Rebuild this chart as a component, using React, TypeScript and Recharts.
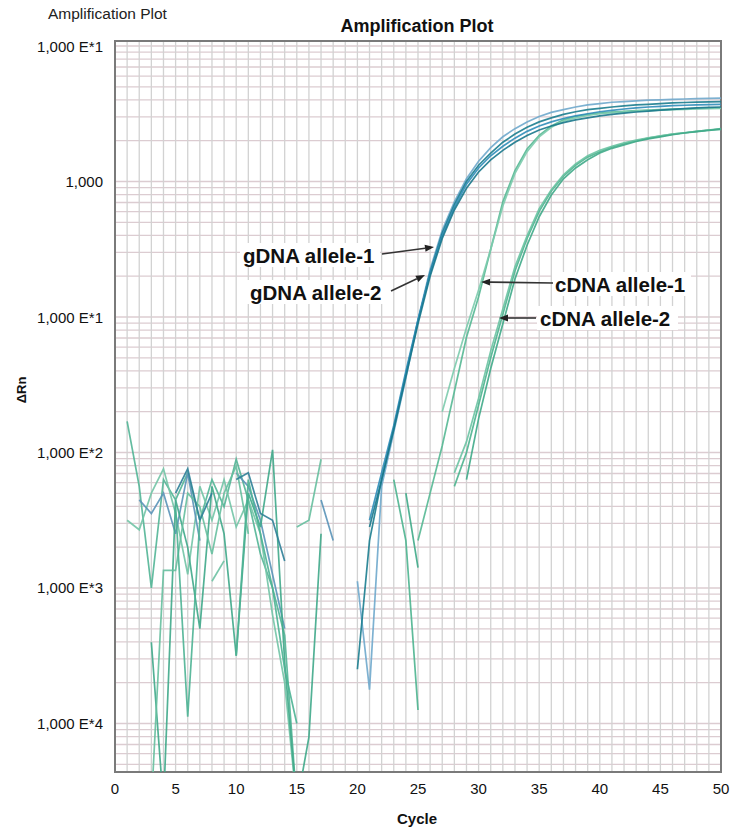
import React from 'react';
import {
  LineChart, Line, XAxis, YAxis, CartesianGrid, ReferenceArea
} from 'recharts';

// ΔRn values as log10 numbers, null = gap (negative / off scale)
const gdnaA1a = [-2.95, -3.75, -2.25, -1.85, -1.45, -1.02, -0.65, -0.36, -0.15, 0.02, 0.15, 0.25, 0.33, 0.39, 0.44, 0.48, 0.51, 0.53, 0.55, 0.565, 0.575, 0.585, 0.59, 0.595, 0.6, 0.603, 0.606, 0.609, 0.611, 0.613, 0.615];
const gdnaA1b = [-3.6, -2.65, -2.2, -1.82, -1.42, -1.03, -0.67, -0.38, -0.17, 0.0, 0.12, 0.21, 0.29, 0.35, 0.4, 0.44, 0.47, 0.495, 0.515, 0.53, 0.54, 0.55, 0.558, 0.565, 0.57, 0.575, 0.58, 0.583, 0.586, 0.588, 0.59];
const gdnaA2a = [-2.5, -2.15, -1.8, -1.4, -1.02, -0.68, -0.4, -0.19, -0.02, 0.1, 0.19, 0.26, 0.32, 0.37, 0.41, 0.44, 0.465, 0.485, 0.5, 0.515, 0.525, 0.535, 0.543, 0.55, 0.555, 0.56, 0.563, 0.566, 0.568, 0.57];
const gdnaA2b = [-2.55, -2.2, -1.83, -1.44, -1.05, -0.7, -0.42, -0.21, -0.05, 0.07, 0.16, 0.23, 0.29, 0.34, 0.38, 0.41, 0.435, 0.455, 0.47, 0.485, 0.495, 0.505, 0.513, 0.52, 0.527, 0.533, 0.538, 0.543, 0.547, 0.55];

const cdnaA1a = [-2.65, -2.3, -1.95, -1.55, -1.15, -0.85, -0.5, -0.15, 0.08, 0.24, 0.34, 0.41, 0.455, 0.48, 0.495, 0.505, 0.512, 0.518, 0.523, 0.527, 0.53, 0.534, 0.537, 0.54, 0.542, 0.544];
const cdnaA1b = [-1.7, -1.38, -1.08, -0.8, -0.5, -0.18, 0.06, 0.22, 0.33, 0.4, 0.445, 0.47, 0.488, 0.5, 0.508, 0.514, 0.519, 0.523, 0.527, 0.53, 0.533, 0.536, 0.538, 0.54];
const cdnaA2a = [-2.2, -2.65, -3.9, null, null, -2.25, -2.0, -1.65, -1.3, -0.98, -0.66, -0.42, -0.22, -0.07, 0.04, 0.12, 0.18, 0.22, 0.255, 0.28, 0.3, 0.32, 0.335, 0.35, 0.36, 0.37, 0.38, 0.39];
const cdnaA2b = [-2.15, -1.92, -1.6, -1.25, -0.94, -0.63, -0.4, -0.2, -0.06, 0.05, 0.13, 0.19, 0.23, 0.26, 0.285, 0.305, 0.322, 0.337, 0.35, 0.36, 0.37, 0.38, 0.385];
const cdnaA2c = [-2.3, -2.85, null, null, null, -2.2, -1.75, -1.38, -1.05, -0.72, -0.47, -0.26, -0.1, 0.02, 0.1, 0.16, 0.21, 0.245, 0.27, 0.295, 0.315, 0.33, 0.345, 0.358, 0.368, 0.378, 0.386];

// baseline noise, cycles 1-18
const noise1 = [-1.77, -2.25, -3.0, -2.2, -2.35, -2.15, -2.5, -2.2, -2.4, -2.05, -2.35, -2.75, -3.0, -3.35, -4.6, null, null, null];
const noise2 = [-2.5, -2.57, -2.3, -2.12, -2.45, -2.9, -2.25, -2.5, -2.2, -2.55, -2.35, -2.6, -3.2, -3.7, -4.6, null, null, null];
const noise3 = [null, -2.35, -2.45, -2.3, -2.6, -2.15, -2.65, null, null, -2.15, -2.25, -2.5, -2.9, -3.3, null, null, -2.35, -2.65];
const noise4 = [null, null, -3.4, -4.6, -2.35, -2.7, -3.3, -2.25, -2.6, -3.5, -2.3, -2.55, -1.98, -3.55, -4.6, -4.1, -2.6, null];
const noise5 = [null, null, -4.6, -2.87, -2.87, -2.3, -2.4, -2.75, -2.3, -2.1, -2.6, null, null, null, -2.55, -2.5, -2.05, null];
const noise6 = [null, null, null, null, -2.3, -2.12, -2.5, -2.3, null, -2.2, -2.15, -2.45, -2.5, -2.8, null, null, null, null];
const noise7 = [null, null, null, null, -2.4, -3.95, -2.5, null, null, -3.5, -2.2, -2.6, -3.0, -3.6, -4.0, null, null, null];
const noise8 = [-2.95, -2.8];

const cycles = Array.from({ length: 50 }, (_, i) => i + 1);
const xTicks = Array.from({ length: 51 }, (_, i) => i);

const decadeValues = [10, 1, 0.1, 0.01, 0.001, 0.0001];
const decadeLabels = ['1,000 E*1', '1,000', '1,000 E*1', '1,000 E*2', '1,000 E*3', '1,000 E*4'];

const Y_MIN = Math.pow(10, -4.358);
const Y_MAX = Math.pow(10, 1.037);

const series = [
  { key: 'n1', start: 1, values: noise1, color: '#52b596' },
  { key: 'n2', start: 1, values: noise2, color: '#72c4a6' },
  { key: 'n3', start: 1, values: noise3, color: '#5a93b8' },
  { key: 'n4', start: 1, values: noise4, color: '#3fa98a' },
  { key: 'n5', start: 1, values: noise5, color: '#66bf9f' },
  { key: 'n6', start: 1, values: noise6, color: '#2f8098' },
  { key: 'n7', start: 1, values: noise7, color: '#4db393' },
  { key: 'n8', start: 8, values: noise8, color: '#6cc1a2' },
  { key: 'c2a', start: 23, values: cdnaA2a, color: '#4cb48f' },
  { key: 'c2b', start: 28, values: cdnaA2b, color: '#6cc3a3' },
  { key: 'c2c', start: 24, values: cdnaA2c, color: '#3faa88' },
  { key: 'c1a', start: 25, values: cdnaA1a, color: '#55b894' },
  { key: 'c1b', start: 27, values: cdnaA1b, color: '#7ccbad' },
  { key: 'g1a', start: 20, values: gdnaA1a, color: '#6fa8cc' },
  { key: 'g1b', start: 20, values: gdnaA1b, color: '#1b7d8f' },
  { key: 'g2a', start: 21, values: gdnaA2a, color: '#2f8db9' },
  { key: 'g2b', start: 21, values: gdnaA2b, color: '#19788c' },
];

const data = cycles.map(c => {
  const row: Record<string, number | null> = { cycle: c };
  series.forEach(s => {
    const v = s.values[c - s.start];
    row[s.key] = v === undefined || v === null ? null : Math.pow(10, v);
  });
  return row;
});

const yTicks: number[] = [];
for (let e = -5; e <= 0; e++) {
  for (let m = 1; m <= 9; m++) {
    const v = Number((m * Math.pow(10, e)).toPrecision(6));
    if (v >= Y_MIN && v <= Y_MAX) yTicks.push(v);
  }
}
yTicks.push(10);

const FONT = 'Arial, "Liberation Sans", Helvetica, sans-serif';

const YTick = (props: any) => {
  const { x, y, payload } = props;
  const idx = decadeValues.findIndex(d => Math.abs(Math.log10(d) - Math.log10(payload.value)) < 1e-6);
  if (idx < 0) return null;
  return (
    <text x={x} y={y} textAnchor="end" dominantBaseline="central" fontSize={15} fill="#111" fontFamily={FONT}>
      {decadeLabels[idx]}
    </text>
  );
};

const XTick = (props: any) => {
  const { x, y, payload } = props;
  if (payload.value % 5 !== 0) return null;
  return (
    <text x={x} y={y + 14} textAnchor="middle" fontSize={15} fill="#111" fontFamily={FONT}>
      {payload.value}
    </text>
  );
};

const Arrow = ({ x1, y1, x2, y2 }: { x1: number; y1: number; x2: number; y2: number }) => {
  const a = Math.atan2(y2 - y1, x2 - x1);
  const len = 9, w = 3.5;
  const bx = x2 - len * Math.cos(a), by = y2 - len * Math.sin(a);
  const p1 = `${bx - w * Math.sin(a)},${by + w * Math.cos(a)}`;
  const p2 = `${bx + w * Math.sin(a)},${by - w * Math.cos(a)}`;
  return (
    <g>
      <line x1={x1} y1={y1} x2={bx} y2={by} stroke="#333" strokeWidth={1.6} />
      <polygon points={`${x2},${y2} ${p1} ${p2}`} fill="#222" />
    </g>
  );
};

const Label = ({ x, y, w, text }: { x: number; y: number; w: number; text: string }) => (
  <g>
    <rect x={x - 3} y={y - 12} width={w + 6} height={24} fill="#fff" />
    <text x={x} y={y} dominantBaseline="central" fontSize={20.5} fontWeight="bold" fill="#111" fontFamily={FONT}>
      {text}
    </text>
  </g>
);

export default function App() {
  return (
    <div style={{ position: 'absolute', left: 0, top: 0, width: 731, height: 829, background: '#fff', fontFamily: FONT }}>
      <LineChart width={731} height={829} data={data} margin={{ top: 41, right: 10, bottom: 27, left: 15 }}>
        <CartesianGrid vertical={false} stroke="#dcccd1" strokeWidth={1.3} />
        <CartesianGrid horizontal={false} stroke="#d2d2d2" strokeWidth={1.3} />
        <XAxis
          dataKey="cycle"
          type="number"
          domain={[0, 50]}
          ticks={xTicks}
          interval={0}
          tick={<XTick />}
          tickLine={false}
          axisLine={false}
          height={30}
        />
        <YAxis
          type="number"
          scale="log"
          domain={[Y_MIN, Y_MAX]}
          allowDataOverflow
          ticks={yTicks}
          interval={0}
          tick={<YTick />}
          tickLine={false}
          axisLine={false}
          tickSize={6}
          tickMargin={6}
          width={100}
        />
        <ReferenceArea x1={0} x2={50} y1={Y_MIN} y2={Y_MAX} fill="none" stroke="#7a7a7a" strokeWidth={2} ifOverflow="visible" />
        {series.map(s => (
          <Line
            key={s.key}
            dataKey={s.key}
            stroke={s.color}
            strokeWidth={1.7}
            strokeOpacity={0.9}
            dot={false}
            activeDot={false}
            connectNulls={false}
            isAnimationActive={false}
            type="linear"
          />
        ))}
      </LineChart>
      <svg width={731} height={829} style={{ position: 'absolute', left: 0, top: 0, pointerEvents: 'none' }}>
        <text x={48} y={13} dominantBaseline="central" fontSize={15.5} fill="#222" fontFamily={FONT}>Amplification Plot</text>
        <text x={417} y={26} textAnchor="middle" dominantBaseline="central" fontSize={18} fontWeight="bold" fill="#111" fontFamily={FONT}>Amplification Plot</text>
        <text x={21} y={390} textAnchor="middle" dominantBaseline="central" fontSize={13} fontWeight="bold" fill="#111" fontFamily={FONT} transform="rotate(-90 21 390)">ΔRn</text>
        <text x={417} y={818} textAnchor="middle" dominantBaseline="central" fontSize={15} fontWeight="bold" fill="#111" fontFamily={FONT}>Cycle</text>

        <Label x={243} y={255} w={134} text="gDNA allele-1" />
        <Arrow x1={382} y1={254} x2={434} y2={247} />
        <Label x={250} y={292} w={135} text="gDNA allele-2" />
        <Arrow x1={391} y1={291} x2={425} y2={275} />
        <Label x={555} y={284} w={133} text="cDNA allele-1" />
        <Arrow x1={553} y1={283} x2={481} y2={282} />
        <Label x={540} y={318} w={135} text="cDNA allele-2" />
        <Arrow x1={536} y1={318} x2={499} y2={318} />
      </svg>
    </div>
  );
}
